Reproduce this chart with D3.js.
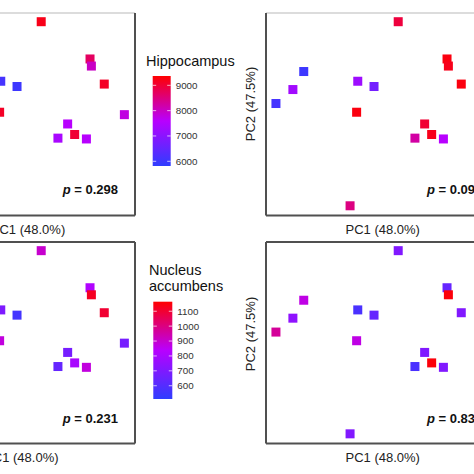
<!DOCTYPE html>
<html><head><meta charset="utf-8">
<script src="https://cdn.jsdelivr.net/npm/d3@7"></script>
<style>body{margin:0;background:#fff}svg{display:block}text{font-family:"Liberation Sans",Arial,Helvetica,sans-serif}</style>
</head><body>
<svg id="c" width="474" height="474"></svg>
<script>
// PCA scores (relative units) for 16 samples
const pc1 = [58.5, 80.1, 80.7, 86.4, 16.7, 11.9, 4.4, 40.6, 47.8, 40.1, 70.2, 73.3, 65.9, 78.5, 37.2, 95.3];
const pc2 = [95.7, 77.3, 73.8, 64.9, 71.1, 62.2, 55.3, 66.3, 63.7, 51.0, 45.2, 40.0, 38.2, 37.8, 4.8, 49.8];
// colour variables per panel (null = sample outside the visible crop)
const hippocampus = [9200, 8700, 8000, 9100, null, null, null, 6100, 6000, 9100, 7600, 9000, 7400, 7600, null, 7800];
const regionTR    = [0.88, 0.97, 0.95, 0.97, 0.05, 0.42, 0.08, 0.40, 0.25, 0.97, 0.90, 0.95, 0.68, 0.50, 0.75, null];
const nucleusAcc  = [900, 820, 1120, 1100, null, null, null, 700, 560, 880, 680, 800, 640, 880, null, 680];
const regionBR    = [0.30, 0.20, 0.98, 0.30, 0.55, 0.35, 0.70, 0.10, 0.20, 0.55, 0.30, 0.98, 0.10, 0.30, 0.30, null];
const pValues = ["0.298", "0.09", "0.231", "0.83"];
const hippoTicks = [6000, 7000, 8000, 9000];
const hippoRange = [5814, 9368];
const nuclTicks = [600, 700, 800, 900, 1000, 1100];
const nuclRange = [511, 1164];
const xLabel = "PC1 (48.0%)";
const yLabel = "PC2 (47.5%)";

const svg = d3.select("#c");
const colors = ["#2f3dff", "#b800ff", "#ff0000"];
function colorScale(domain){
  const mid = (domain[0]+domain[1])/2;
  return d3.scaleLinear().domain([domain[0], mid, domain[1]]).range(colors).interpolate(d3.interpolateRgb).clamp(true);
}

const W = 226;
const panels = [
  {left:-91, top:13, bottom:215.5, vals:hippocampus, dom:hippoRange, p:pValues[0], topLight:true, xl:119, yl:false},
  {left:266, top:13, bottom:215.5, vals:regionTR, dom:[0,1], p:pValues[1], topLight:true, xl:116.7, yl:true, ylc:104},
  {left:-91, top:242, bottom:443.5, vals:nucleusAcc, dom:nuclRange, p:pValues[2], topLight:false, xl:112.3, yl:false},
  {left:266, top:242, bottom:443.5, vals:regionBR, dom:[0,1], p:pValues[3], topLight:false, xl:116.7, yl:true, ylc:334}
];

panels.forEach(P => {
  const g = svg.append("g");
  const x = d3.scaleLinear().domain([0,100]).range([P.left, P.left+W]);
  const y = d3.scaleLinear().domain([0,100]).range([P.bottom, P.top]);
  const col = colorScale(P.dom);
  const pts = pc1.map((v,i)=>({x:v, y:pc2[i], c:P.vals[i]})).filter(d=>d.c!==null);
  const s = 9;
  g.selectAll("rect.pt").data(pts).join("rect").attr("class","pt")
    .attr("x", d=>x(d.x)-s/2).attr("y", d=>y(d.y)-s/2)
    .attr("width", s).attr("height", s).attr("fill", d=>col(d.c));
  // frame
  const L=P.left, R=P.left+W, T=P.top, B=P.bottom;
  g.append("line").attr("x1",L).attr("x2",R).attr("y1",T).attr("y2",T)
    .attr("stroke", P.topLight? "#dcdcdc":"#505050").attr("stroke-width", 2);
  g.append("line").attr("x1",L).attr("x2",R).attr("y1",B).attr("y2",B).attr("stroke","#505050").attr("stroke-width",2);
  g.append("line").attr("x1",L).attr("x2",L).attr("y1",T).attr("y2",B).attr("stroke","#505050").attr("stroke-width",2);
  g.append("line").attr("x1",R).attr("x2",R).attr("y1",T).attr("y2",B).attr("stroke","#505050").attr("stroke-width",2);
  // p value
  const pt = g.append("text").attr("x", L+209).attr("y", T+181).attr("text-anchor","end")
    .attr("font-size", 13).attr("font-weight","bold").attr("fill","#111");
  pt.append("tspan").attr("font-style","italic").text("p");
  pt.append("tspan").text(" = " + P.p);
  // axis labels
  g.append("text").attr("x", L+P.xl).attr("y", B+18.3).attr("text-anchor","middle")
    .attr("font-size", 13).attr("fill","#222").text(xLabel);
  if (P.yl) {
    g.append("text").attr("transform", `translate(${L-11},${P.ylc}) rotate(-90)`)
      .attr("text-anchor","middle").attr("font-size",13).attr("fill","#222").text(yLabel);
  }
});

// colour bar legends
function legend(opts){
  const g = svg.append("g");
  opts.title.forEach((t,i)=>{
    g.append("text").attr("x", opts.tx).attr("y", opts.ty + i*16.8).attr("font-size",14.5).attr("fill","#111").text(t);
  });
  const col = colorScale(opts.dom);
  const ys = d3.scaleLinear().domain(opts.dom).range([opts.y1, opts.y0]);
  const id = "grad"+opts.id;
  const grad = svg.append("defs").append("linearGradient").attr("id", id)
    .attr("x1",0).attr("x2",0).attr("y1",1).attr("y2",0);
  d3.range(0,1.0001,0.1).forEach(f=>{
    const v = opts.dom[0] + f*(opts.dom[1]-opts.dom[0]);
    grad.append("stop").attr("offset", f).attr("stop-color", col(v));
  });
  g.append("rect").attr("x", opts.bx).attr("y", opts.y0).attr("width", opts.bw).attr("height", opts.y1-opts.y0)
    .attr("fill", `url(#${id})`);
  opts.ticks.forEach(t=>{
    const yy = ys(t);
    g.append("line").attr("x1",opts.bx).attr("x2",opts.bx+3.5).attr("y1",yy).attr("y2",yy).attr("stroke","#fff").attr("stroke-opacity",0.7).attr("stroke-width",1);
    g.append("line").attr("x1",opts.bx+opts.bw-3.5).attr("x2",opts.bx+opts.bw).attr("y1",yy).attr("y2",yy).attr("stroke","#fff").attr("stroke-opacity",0.7).attr("stroke-width",1);
    g.append("text").attr("x", opts.bx+opts.bw+5).attr("y", yy).attr("dy","0.35em")
      .attr("font-size",9.8).attr("fill","#333").text(t);
  });
}
legend({id:1, title:["Hippocampus"], tx:146, ty:66.4, dom:hippoRange, ticks:hippoTicks, bx:152.7, bw:18, y0:76, y1:166});
legend({id:2, title:["Nucleus","accumbens"], tx:149, ty:274.5, dom:nuclRange, ticks:nuclTicks, bx:153.3, bw:19, y0:301.7, y1:399});
</script>
</body></html>
